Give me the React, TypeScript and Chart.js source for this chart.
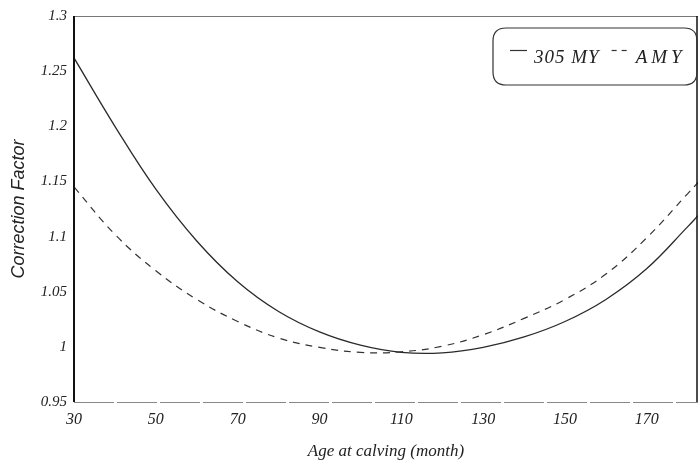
import React, { useEffect, useRef } from "react";
import { Chart, registerables } from "chart.js";

Chart.register(...registerables);

const ages = [30, 40, 50, 60, 70, 80, 90, 100, 110, 120, 130, 140, 150, 160, 170, 180, 182.5];
const my305 = [1.262, 1.2, 1.143, 1.096, 1.059, 1.032, 1.0135, 1.0015, 0.995, 0.9945, 0.9995, 1.009, 1.023, 1.043, 1.071, 1.109, 1.119];
const amy = [1.145, 1.102, 1.069, 1.043, 1.023, 1.008, 0.9995, 0.995, 0.9955, 1.0006, 1.011, 1.0258, 1.043, 1.066, 1.099, 1.139, 1.149];
const seriesLabels = ["305 MY", "AMY"];
const xTicks = [30, 50, 70, 90, 110, 130, 150, 170];
const yTicks = [0.95, 1, 1.05, 1.1, 1.15, 1.2, 1.25, 1.3];
const yTickLabels = ["0.95", "1", "1.05", "1.1", "1.15", "1.2", "1.25", "1.3"];

const serif = "'Liberation Serif', 'DejaVu Serif', serif";
const sans = "'Liberation Sans', Arial, sans-serif";

const framePlugin = {
  id: "frame",
  afterDraw(chart: any) {
    const { ctx, chartArea: a } = chart;
    ctx.save();
    ctx.strokeStyle = "#777";
    ctx.lineWidth = 1;
    ctx.beginPath();
    ctx.moveTo(a.left, a.top + 0.5);
    ctx.lineTo(a.right, a.top + 0.5);
    ctx.stroke();
    ctx.strokeStyle = "#888";
    ctx.setLineDash([40, 3]);
    ctx.beginPath();
    ctx.moveTo(a.left, a.bottom + 0.5);
    ctx.lineTo(a.right, a.bottom + 0.5);
    ctx.stroke();
    ctx.setLineDash([]);
    ctx.strokeStyle = "#111";
    ctx.lineWidth = 2;
    ctx.beginPath();
    ctx.moveTo(a.left, a.top);
    ctx.lineTo(a.left, a.bottom);
    ctx.stroke();
    ctx.lineWidth = 1.5;
    ctx.beginPath();
    ctx.moveTo(a.right - 1, a.top);
    ctx.lineTo(a.right - 1, a.bottom);
    ctx.stroke();

    // legend box
    const bx = a.right - 205;
    const by = a.top + 12;
    const bw = 204;
    const bh = 57;
    const r = 13;
    ctx.strokeStyle = "#333";
    ctx.lineWidth = 1.2;
    ctx.beginPath();
    ctx.moveTo(bx + r, by);
    ctx.lineTo(bx + bw - r, by);
    ctx.quadraticCurveTo(bx + bw, by, bx + bw, by + r);
    ctx.lineTo(bx + bw, by + bh - r);
    ctx.quadraticCurveTo(bx + bw, by + bh, bx + bw - r, by + bh);
    ctx.lineTo(bx + r, by + bh);
    ctx.quadraticCurveTo(bx, by + bh, bx, by + bh - r);
    ctx.lineTo(bx, by + r);
    ctx.quadraticCurveTo(bx, by, bx + r, by);
    ctx.stroke();

    const ds = chart.data.datasets;
    const cy = by + bh / 2 + 1;
    ctx.font = `italic 19px ${serif}`;
    ctx.fillStyle = "#222";
    ctx.textBaseline = "middle";
    const spacings = ["1px", "4px"];
    let x = bx + 17;
    ds.forEach((d: any, i: number) => {
      ctx.strokeStyle = "#333";
      ctx.lineWidth = 1.2;
      ctx.setLineDash(d.borderDash ? [5, 5] : []);
      ctx.beginPath();
      ctx.moveTo(x, cy - 7);
      ctx.lineTo(x + 17, cy - 7);
      ctx.stroke();
      ctx.setLineDash([]);
      x += 24;
      try {
        (ctx as any).letterSpacing = spacings[i];
      } catch (e) {}
      ctx.fillText(d.label, x, cy);
      x += ctx.measureText(d.label).width + 12;
    });
    try {
      (ctx as any).letterSpacing = "0px";
    } catch (e) {}
    ctx.restore();
  },
};

export default function App() {
  const ref = useRef<HTMLCanvasElement>(null);
  useEffect(() => {
    document.body.style.margin = "0";
    const canvas = ref.current!;
    const chart = new Chart(canvas, {
      type: "line",
      data: {
        datasets: [
          {
            label: seriesLabels[0],
            data: ages.map((a, i) => ({ x: a, y: my305[i] })),
            borderColor: "#2a2a2a",
            borderWidth: 1.3,
            pointRadius: 0,
            tension: 0.4,
            fill: false,
          },
          {
            label: seriesLabels[1],
            data: ages.map((a, i) => ({ x: a, y: amy[i] })),
            borderColor: "#333",
            borderWidth: 1.2,
            borderDash: [7, 6],
            pointRadius: 0,
            tension: 0.4,
            fill: false,
          },
        ],
      },
      options: {
        animation: false,
        responsive: false,
        layout: { padding: { top: 15, right: 2, left: 0, bottom: 0 } },
        plugins: { legend: { display: false }, tooltip: { enabled: false } },
        scales: {
          x: {
            type: "linear",
            min: 30,
            max: 182.5,
            grid: { display: false, drawTicks: false },
            border: { display: false },
            afterBuildTicks: (s: any) => {
              s.ticks = xTicks.map((v) => ({ value: v }));
            },
            afterFit: (s: any) => {
              s.height = 64;
            },
            ticks: {
              color: "#222",
              padding: 8,
              maxRotation: 0,
              autoSkip: false,
              font: { family: serif, style: "italic", size: 16 },
              callback: (v: any) => String(v),
            },
            title: {
              display: true,
              text: "Age at calving (month)",
              color: "#222",
              font: { family: serif, style: "italic", size: 17 },
              padding: { top: 4 },
            },
          },
          y: {
            type: "linear",
            min: 0.95,
            max: 1.3,
            grid: { display: false, drawTicks: false },
            border: { display: false },
            afterBuildTicks: (s: any) => {
              s.ticks = yTicks.map((v) => ({ value: v }));
            },
            afterFit: (s: any) => {
              s.width = 74;
            },
            ticks: {
              color: "#222",
              padding: 7,
              autoSkip: false,
              font: { family: serif, style: "italic", size: 15 },
              callback: (v: any) => {
                const i = yTicks.findIndex((t) => Math.abs(t - v) < 1e-6);
                return i >= 0 ? yTickLabels[i] : "";
              },
            },
            title: {
              display: true,
              text: "Correction Factor",
              color: "#222",
              font: { family: sans, style: "italic", size: 18 },
              padding: { top: 8, bottom: 2 },
            },
          },
        },
      },
      plugins: [framePlugin],
    } as any);
    return () => chart.destroy();
  }, []);
  return (
    <div style={{ width: 700, height: 466, background: "#fff" }}>
      <canvas ref={ref} width={700} height={466} style={{ display: "block" }} />
    </div>
  );
}
